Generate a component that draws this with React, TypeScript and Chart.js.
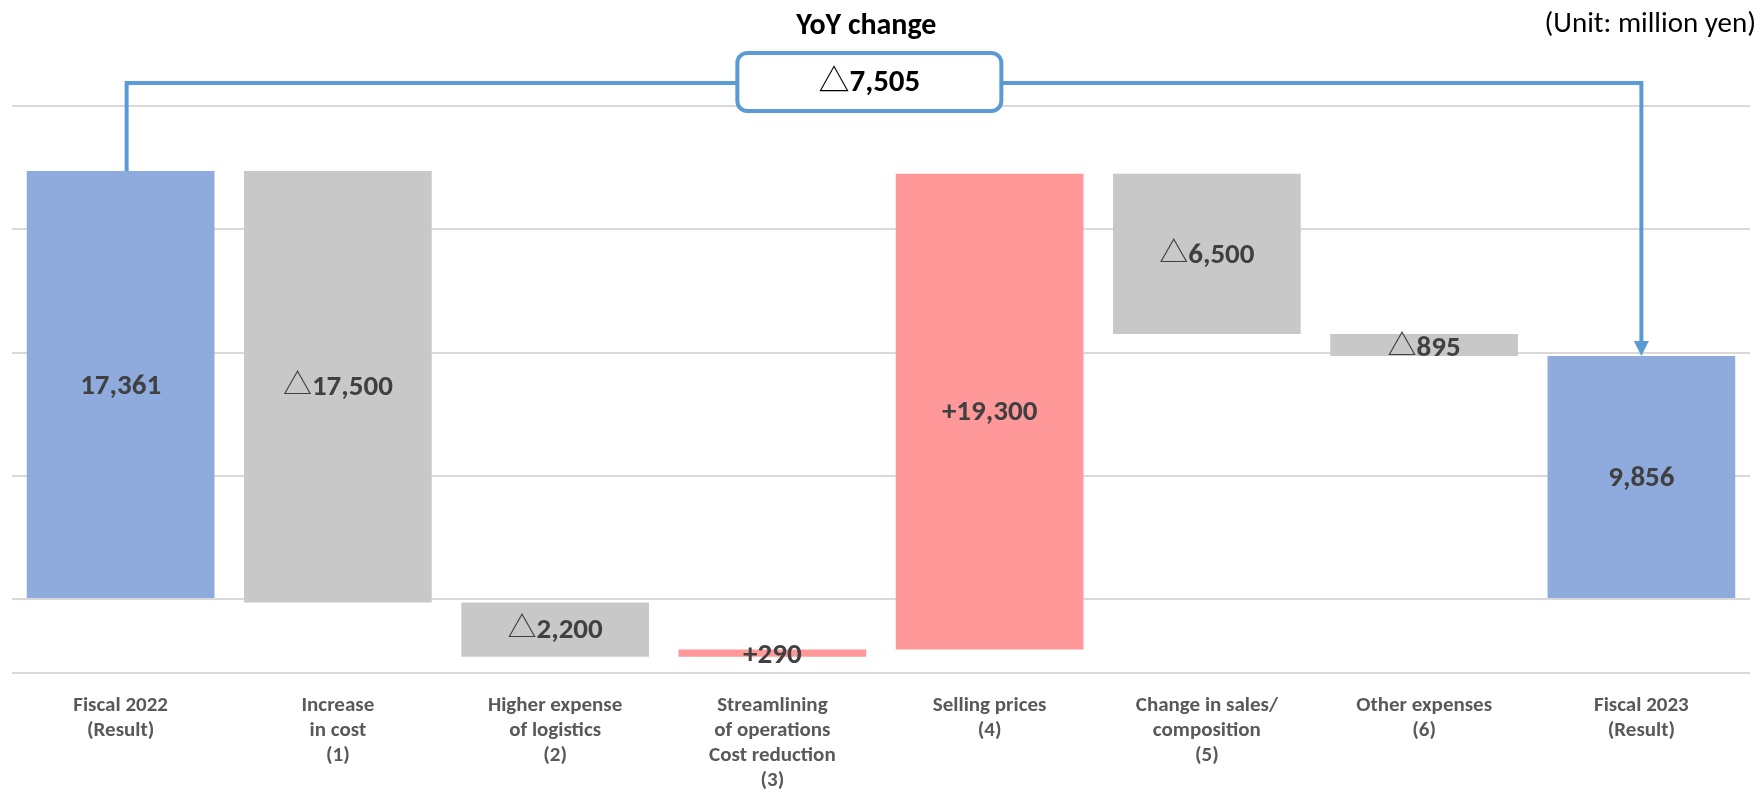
import { useEffect, useRef } from "react";
import { Chart, registerables } from "chart.js";

Chart.register(...registerables);

// Operating profit bridge, Fiscal 2022 → Fiscal 2023 (million yen)
const categories: string[][] = [
  ["Fiscal 2022", "(Result)"],
  ["Increase", "in cost", "(1)"],
  ["Higher expense", "of logistics", "(2)"],
  ["Streamlining", "of operations", "Cost reduction", "(3)"],
  ["Selling prices", "(4)"],
  ["Change in sales/", "composition", "(5)"],
  ["Other expenses", "(6)"],
  ["Fiscal 2023", "(Result)"],
];
const openingProfit = 17361;
const deltas = [-17500, -2200, 290, 19300, -6500, -895];
const closingProfit = 9856;
const yoyChange = -7505;
const yTicks = [-3000, 0, 5000, 10000, 15000, 20000];

const TEXT_FONT = "Carlito, Lato, sans-serif";
const TRI_FONT = "'Noto Sans CJK JP', 'DejaVu Sans', sans-serif";
const TOTAL_COLOR = "#8faadc";
const DOWN_COLOR = "#c8c8c8";
const UP_COLOR = "#ff9999";
const LINK_COLOR = "#5b9bd5";

const fmt = (v: number) => Math.abs(v).toLocaleString("en-US");

// Build floating [start, end] ranges for the waterfall
const ranges: [number, number][] = [];
const colors: string[] = [];
const prefixes: string[] = [];
const bodies: string[] = [];
ranges.push([0, openingProfit]);
colors.push(TOTAL_COLOR);
prefixes.push("");
bodies.push(fmt(openingProfit));
let level = openingProfit;
for (const d of deltas) {
  ranges.push([level, level + d]);
  level += d;
  colors.push(d < 0 ? DOWN_COLOR : UP_COLOR);
  prefixes.push(d < 0 ? "△" : "+");
  bodies.push(fmt(d));
}
ranges.push([0, closingProfit]);
colors.push(TOTAL_COLOR);
prefixes.push("");
bodies.push(fmt(closingProfit));

function drawMixed(
  ctx: CanvasRenderingContext2D,
  prefix: string,
  body: string,
  cx: number,
  cy: number,
  size: number,
  color: string
) {
  const isTri = prefix === "△";
  const prefixFont = isTri ? `${size}px ${TRI_FONT}` : `bold ${size}px ${TEXT_FONT}`;
  const bodyFont = `bold ${size}px ${TEXT_FONT}`;
  ctx.save();
  ctx.fillStyle = color;
  ctx.textAlign = "left";
  ctx.textBaseline = "alphabetic";
  ctx.font = prefixFont;
  const pw = prefix ? ctx.measureText(prefix).width : 0;
  ctx.font = bodyFont;
  const m = ctx.measureText(body);
  const total = pw + m.width;
  const baseline = cy + (m.actualBoundingBoxAscent - m.actualBoundingBoxDescent) / 2;
  const x0 = cx - total / 2;
  if (prefix) {
    ctx.font = prefixFont;
    ctx.fillText(prefix, x0, baseline);
  }
  ctx.font = bodyFont;
  ctx.fillText(body, x0 + pw, baseline);
  ctx.restore();
}

const valueLabels = {
  id: "valueLabels",
  afterDatasetsDraw(chart: Chart) {
    const ctx = chart.ctx;
    const meta = chart.getDatasetMeta(0);
    meta.data.forEach((el: any, i: number) => {
      const cy = (el.y + el.base) / 2 + 1;
      drawMixed(ctx, prefixes[i], bodies[i], el.x, cy, 29, "#404040");
    });
  },
};

const yoyLink = {
  id: "yoyLink",
  afterDatasetsDraw(chart: Chart) {
    const ctx = chart.ctx;
    const area = chart.chartArea;
    const meta = chart.getDatasetMeta(0);
    const first: any = meta.data[0];
    const last: any = meta.data[meta.data.length - 1];
    const lineY = area.top - 23;
    const x1 = first.x + 6;
    const y1 = Math.min(first.y, first.base);
    const x2 = last.x;
    const y2 = Math.min(last.y, last.base);
    const head = 15;

    ctx.save();
    ctx.strokeStyle = LINK_COLOR;
    ctx.fillStyle = LINK_COLOR;
    ctx.lineWidth = 4;
    ctx.lineJoin = "miter";
    ctx.beginPath();
    ctx.moveTo(x1, y1);
    ctx.lineTo(x1, lineY);
    ctx.lineTo(x2, lineY);
    ctx.lineTo(x2, y2 - head + 1);
    ctx.stroke();
    ctx.beginPath();
    ctx.moveTo(x2 - 7.5, y2 - head);
    ctx.lineTo(x2 + 7.5, y2 - head);
    ctx.lineTo(x2, y2);
    ctx.closePath();
    ctx.fill();

    // boxed YoY change
    const bx = area.left + area.width * 0.4933;
    const bw = 264;
    const bh = 58;
    const by = lineY - 1;
    ctx.beginPath();
    ctx.roundRect(bx - bw / 2, by - bh / 2, bw, bh, 10);
    ctx.fillStyle = "#ffffff";
    ctx.fill();
    ctx.lineWidth = 4;
    ctx.stroke();
    ctx.restore();

    drawMixed(
      ctx,
      yoyChange < 0 ? "△" : "+",
      fmt(yoyChange),
      bx,
      by + 1,
      31,
      "#000000"
    );

    ctx.save();
    ctx.fillStyle = "#000000";
    ctx.textBaseline = "middle";
    ctx.textAlign = "center";
    ctx.font = `bold 30px ${TEXT_FONT}`;
    ctx.fillText("YoY change", bx - 3, 26);
    ctx.textAlign = "right";
    ctx.font = `29px ${TEXT_FONT}`;
    ctx.fillText("(Unit: million yen)", chart.width - 4, 25);
    ctx.restore();
  },
};

export default function App() {
  const canvasRef = useRef<HTMLCanvasElement | null>(null);

  useEffect(() => {
    if (!canvasRef.current) return;
    const chart = new Chart(canvasRef.current, {
      type: "bar",
      data: {
        labels: categories,
        datasets: [
          {
            data: ranges,
            backgroundColor: colors,
            borderWidth: 0,
            barPercentage: 0.864,
            categoryPercentage: 1,
          },
        ],
      },
      options: {
        animation: false,
        responsive: false,
        devicePixelRatio: 1,
        layout: { padding: { left: 12, right: 10, top: 106, bottom: 3 } },
        plugins: {
          legend: { display: false },
          tooltip: { enabled: false },
        },
        scales: {
          x: {
            grid: { display: false },
            border: { display: false },
            ticks: {
              color: "#595959",
              font: { family: TEXT_FONT, size: 21, weight: "bold", lineHeight: 25 / 21 },
              padding: 12,
              maxRotation: 0,
              autoSkip: false,
            },
            afterFit: (s: any) => {
              s.height = 117;
            },
          },
          y: {
            min: yTicks[0],
            max: yTicks[yTicks.length - 1],
            afterBuildTicks: (s: any) => {
              s.ticks = yTicks.map((v) => ({ value: v }));
            },
            ticks: { display: false },
            grid: { color: "#d9d9d9", lineWidth: 2, drawTicks: false },
            border: { display: false },
            afterFit: (s: any) => {
              s.width = 0;
            },
          },
        },
      },
      plugins: [valueLabels, yoyLink],
    });
    return () => chart.destroy();
  }, []);

  return (
    <div style={{ position: "absolute", left: 0, top: 0, width: 1760, height: 793, background: "#ffffff" }}>
      <canvas ref={canvasRef} width={1760} height={793} style={{ display: "block" }} />
    </div>
  );
}
